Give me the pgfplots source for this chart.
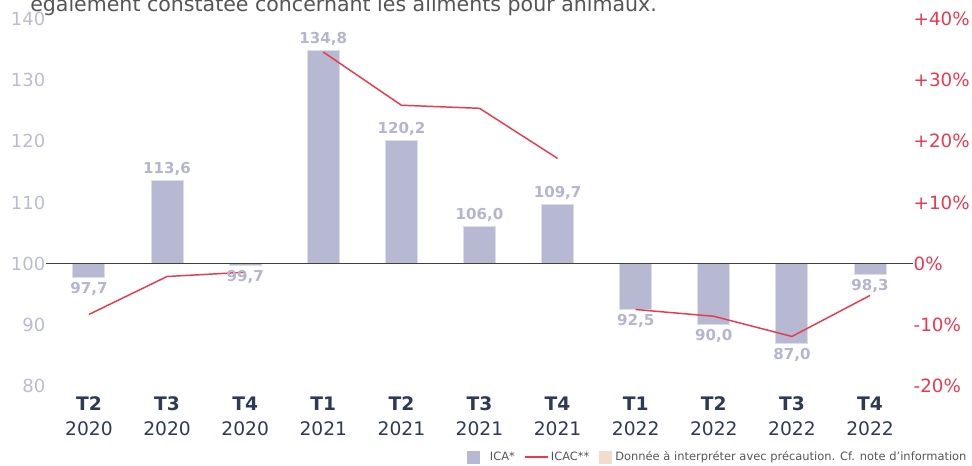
\documentclass[border=0pt]{standalone}
\usepackage{pgfplots}
\usepackage{pgfplotstable}
\pgfplotsset{compat=1.18}
\usepackage{fontspec}
\setmainfont{DejaVu Sans}
\definecolor{barc}{HTML}{B7B9D2}
\definecolor{barl}{HTML}{DCDDEA}
\definecolor{redc}{HTML}{E8394F}
\definecolor{ticl}{HTML}{BBBCD2}
\definecolor{labc}{HTML}{B4B5CE}
\definecolor{navy}{HTML}{2C3A56}
\definecolor{beige}{HTML}{F2DCCB}
\definecolor{titc}{HTML}{555555}

% ICA* values above 100
\pgfplotstableread{
x v lab
1 113.6 113,6
3 134.8 134,8
4 120.2 120,2
5 106.0 106,0
6 109.7 109,7
}\icapos
% ICA* values below 100
\pgfplotstableread{
x v lab
0 97.7 97,7
2 99.7 99,7
7 92.5 92,5
8 90.0 90,0
9 87.0 87,0
10 98.3 98,3
}\icaneg

% ICAC** in percent
\pgfplotstableread{
x p
0 -8.3
1 -2.1
2 -1.4
2.5 nan
3 34.6
4 25.9
5 25.4
6 17.2
6.5 nan
7 -7.5
8 -8.6
9 -11.9
10 -5.2
}\icac

\newcommand{\tl}[2]{\strut\textbf{#1}\\\strut #2}

\begin{document}
\begin{tikzpicture}[x=1pt,y=1pt]
\begin{axis}[
  scale only axis,
  width=650.25pt, height=275.25pt,
  at={(0,0)}, anchor=south west,
  xmin=-0.55, xmax=10.55,
  ymin=-20, ymax=40,
  clip=false,
  axis line style={draw=none},
  major tick length=0pt,
  xtick={0,...,10},
  xticklabels={{\tl{T2}{2020}},{\tl{T3}{2020}},{\tl{T4}{2020}},
    {\tl{T1}{2021}},{\tl{T2}{2021}},{\tl{T3}{2021}},{\tl{T4}{2021}},
    {\tl{T1}{2022}},{\tl{T2}{2022}},{\tl{T3}{2022}},{\tl{T4}{2022}}},
  xticklabel style={align=center, font=\fontsize{14}{18.75}\selectfont, text=navy, yshift=-2pt},
  ytick={-20,-10,0,10,20,30,40},
  yticklabels={80,90,100,110,120,130,140},
  yticklabel style={font=\fontsize{13.5}{16}\selectfont, text=ticl, xshift=3pt},
  unbounded coords=jump,
  legend columns=3,
  legend style={at={(axis description cs:0.4852,-0.1937)}, anchor=west,
    draw=none, fill=none, inner sep=0pt, font=\fontsize{8.6}{10}\selectfont, text=titc,
    /tikz/every even column/.append style={column sep=5pt}},
]
\addplot[ybar, bar width=0.41, bar shift=0pt, fill=barc, draw=barl, line width=0.75pt,
  nodes near coords, point meta=explicit symbolic,
  every node near coord/.append style={anchor=south, font=\bfseries\fontsize{11.3}{13}\selectfont, text=labc},
  legend image code/.code={\fill[barc] (0pt,-4.5pt) rectangle (9pt,4.5pt); \path (14.5pt,0pt);}]
  table[x=x, y expr=\thisrow{v}-100, meta=lab]{\icapos};
\addlegendentry{ICA*}
\addplot[ybar, bar width=0.41, bar shift=0pt, fill=barc, draw=barl, line width=0.75pt,
  forget plot,
  nodes near coords, point meta=explicit symbolic,
  every node near coord/.append style={anchor=north, font=\bfseries\fontsize{11.3}{13}\selectfont, text=labc}]
  table[x=x, y expr=\thisrow{v}-100, meta=lab]{\icaneg};
\addplot[redc, line width=1.1pt, mark=none,
  legend image code/.code={\draw[redc, line width=1pt] (0pt,0pt) -- (17pt,0pt);}]
  table[x=x, y=p]{\icac};
\addlegendentry{ICAC**}
\addlegendimage{legend image code/.code={\fill[beige] (0pt,-4.5pt) rectangle (9pt,4.5pt); \path (10pt,0pt);}}
\addlegendentry{Donnée à interpréter avec précaution. Cf. note d'information}
\draw[black!75, line width=0.75pt] (axis cs:-0.55,0) -- (axis cs:10.55,0);
\end{axis}
\begin{axis}[
  scale only axis,
  width=650.25pt, height=275.25pt,
  at={(0,0)}, anchor=south west,
  xmin=-0.55, xmax=10.55,
  ymin=-20, ymax=40,
  axis line style={draw=none},
  major tick length=0pt,
  xtick=\empty,
  axis y line*=right,
  ytick={-20,-10,0,10,20,30,40},
  yticklabels={-20\%,-10\%,0\%,+10\%,+20\%,+30\%,+40\%},
  yticklabel style={font=\fontsize{13.7}{16}\selectfont, text=redc, xshift=-3pt},
]
\end{axis}
\node[anchor=base west, inner sep=0pt, font=\fontsize{15.4}{17}\selectfont, text=titc] at (-12pt,280.5pt)
  {également constatée concernant les aliments pour animaux.};
\pgfresetboundingbox
\path[use as bounding box] (-34.5pt,-60pt) rectangle (694.5pt,289.5pt);
\end{tikzpicture}
\end{document}
